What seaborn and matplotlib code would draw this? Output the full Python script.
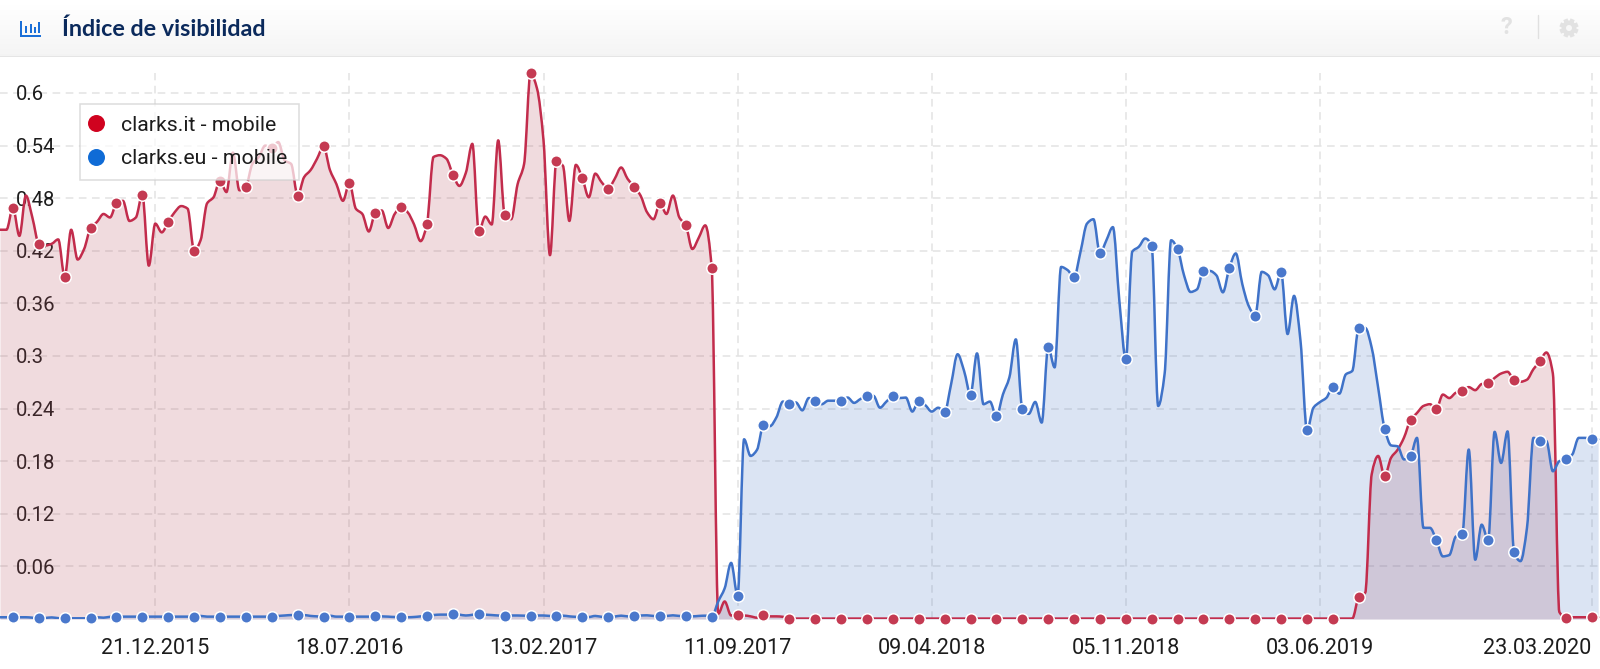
import numpy as np
import pandas as pd
import matplotlib.pyplot as plt
import seaborn as sns
from matplotlib.lines import Line2D
from matplotlib.patches import Rectangle, Circle
from matplotlib.path import Path
from matplotlib.patheffects import AbstractPathEffect

# weekly values, one per Monday starting 06.07.2015
red = [
    .444, .444, .469, .437, .483, .458, .428, .426, .428, .433,
    .390, .444, .410, .422, .446, .453, .462, .458, .474, .477,
    .454, .458, .484, .403, .451, .441, .453, .464, .471, .468,
    .420, .432, .474, .481, .500, .487, .532, .489, .493, .519,
    .527, .540, .537, .544, .523, .519, .483, .504, .512, .525,
    .539, .512, .496, .477, .497, .468, .462, .442, .463, .466,
    .446, .462, .470, .464, .450, .431, .451, .527, .529, .525,
    .507, .494, .509, .542, .442, .459, .450, .546, .461, .456,
    .496, .519, .6225, .605, .546, .415, .522, .517, .454, .518,
    .503, .481, .508, .498, .491, .502, .515, .502, .493, .483,
    .464, .456, .474, .462, .483, .458, .449, .422, .435, .449,
    .400, .006, .020, .004, .004, .004, .003, .0015, .004, .003,
    .003, .0025, .0005, .0005, .0005, .0005, .0005, .0005, .0005, .0005,
    .0005, .0005, .0005, .0005, .0005, .0005, .0005, .0005, .0005, .0005,
    .0005, .0005, .0005, .0005, .0005, .0005, .0005, .0005, .0005, .0005,
    .0005, .0005, .0005, .0005, .0005, .0005, .0005, .0005, .0005, .0005,
    .0005, .0005, .0005, .0005, .0005, .0005, .0005, .0005, .0005, .0005,
    .0005, .0005, .0005, .0005, .0005, .0005, .0005, .0005, .0005, .0005,
    .0005, .0005, .0005, .0005, .0005, .0005, .0005, .0005, .0005, .0005,
    .0005, .0005, .0005, .0005, .0005, .0005, .0005, .0005, .0005, .0005,
    .0005, .0005, .0005, .0005, .0005, .0005, .0005, .0005, .0005, .0005,
    .025, .030, .165, .186, .163, .184, .193, .207, .227, .235,
    .243, .245, .240, .256, .252, .258, .260, .2645, .261, .268,
    .269, .275, .280, .282, .2725, .2706, .273, .285, .294, .304,
    .280, .008, .0015, .002, .002, .002, .002, .002,
]
blue = [
    .002, .002, .0023, .002, .002, .0015, .0008, .0012, .0018, .001,
    .0008, .0008, .0008, .0008, .0008, .002, .0015, .0025, .0027, .0027,
    .0027, .0027, .0027, .0027, .0027, .0027, .0027, .0027, .0027, .0027,
    .0027, .0035, .0027, .0027, .0027, .0027, .0027, .0027, .0027, .0027,
    .0027, .0027, .0027, .0035, .0040, .0045, .0046, .0045, .0035, .0030,
    .0027, .0037, .0027, .0027, .0027, .0027, .0027, .0027, .0038, .0030,
    .0027, .0023, .0023, .0020, .0023, .0030, .0038, .0045, .0050, .0050,
    .0057, .0050, .0040, .0048, .0057, .0050, .0045, .0040, .0038, .0040,
    .0040, .0038, .0038, .0040, .0040, .0035, .0038, .0038, .0030, .0025,
    .0023, .0023, .0035, .0025, .0023, .0028, .0038, .0030, .0038, .0040,
    .0042, .0035, .0038, .0035, .0042, .0035, .0038, .0030, .0035, .0038,
    .0023, .020, .035, .064, .0265, .205, .186, .193, .221, .220,
    .230, .248, .245, .247, .238, .252, .249, .245, .249, .249,
    .249, .2526, .2465, .251, .254, .2545, .241, .248, .254, .252,
    .2526, .2366, .249, .244, .2366, .241, .2366, .268, .302, .283,
    .256, .303, .245, .248, .231, .256, .2755, .319, .240, .234,
    .2476, .224, .310, .287, .4016, .398, .390, .419, .451, .456,
    .417, .432, .447, .363, .296, .419, .4245, .434, .4257, .243,
    .280, .432, .422, .392, .373, .376, .397, .397, .392, .3726,
    .4005, .417, .382, .357, .346, .396, .392, .376, .3955, .325,
    .3686, .317, .2154, .241, .2474, .2523, .2646, .257, .279, .283,
    .332, .332, .3095, .2638, .217, .198, .197, .182, .186, .2066,
    .104, .104, .09, .0714, .073, .094, .097, .1933, .0676, .1076,
    .09, .2135, .178, .214, .076, .066, .104, .2066, .2036, .203,
    .1685, .18, .182, .1876, .2066, .2066, .205, .205,
]
y_ticks = [.06, .12, .18, .24, .3, .36, .42, .48, .54, .6]
y_labels = ["0.06", "0.12", "0.18", "0.24", "0.3", "0.36", "0.42", "0.48", "0.54", "0.6"]
x_labels = ["21.12.2015", "18.07.2016", "13.02.2017", "11.09.2017",
            "09.04.2018", "05.11.2018", "03.06.2019", "23.03.2020"]
series_names = ["clarks.it - mobile", "clarks.eu - mobile"]

sns.set_theme(style="white")
plt.rcParams["font.family"] = ["Roboto", "DejaVu Sans"]

RED_LINE, RED_DOT, RED_FILL = "#c22c4c", "#c43a52", "#b44b5a"
BLUE_LINE, BLUE_DOT, BLUE_FILL = "#3f72c8", "#4a78cc", "#4b78c3"
GRID = "#e3e3e3"
ICON_GREY = "#e2e2e2"
W, H = 1600, 669


# draws a line's own vertices as a monotone curve instead of straight pieces
class Smooth(AbstractPathEffect):
    def draw_path(self, renderer, gc, tpath, affine, rgbFace=None):
        v = tpath.vertices
        dx = np.diff(v[:, 0])
        s = np.diff(v[:, 1]) / dx
        m = np.zeros(len(v))
        same = s[:-1] * s[1:] > 0
        m[1:-1][same] = 2 * s[:-1][same] * s[1:][same] / (s[:-1][same] + s[1:][same])
        m[0], m[-1] = s[0], s[-1]
        verts, codes = [v[0]], [Path.MOVETO]
        for i in range(len(dx)):
            verts.append([v[i, 0] + dx[i] / 3, v[i, 1] + m[i] * dx[i] / 3])
            verts.append([v[i + 1, 0] - dx[i] / 3, v[i + 1, 1] - m[i + 1] * dx[i] / 3])
            verts.append(v[i + 1])
            codes += [Path.CURVE4] * 3
        renderer.draw_path(gc, Path(np.array(verts), codes), affine, rgbFace)


weeks = pd.date_range("2015-07-06", periods=len(red), freq="7D")
x_ticks = pd.to_datetime(x_labels, format="%d.%m.%Y")
red = np.array(red)
blue = np.array(blue)

fig = plt.figure(figsize=(W / 100, H / 100), dpi=100, facecolor="white")

# chart area, 66..619 px from the top
ax = fig.add_axes([0, (H - 619) / H, 1, (619 - 66) / H])
ax.set_facecolor("none")

ax.fill_between(weeks, red, 0, color=RED_FILL, alpha=0.2, linewidth=0, zorder=2)
ax.fill_between(weeks, blue, 0, color=BLUE_FILL, alpha=0.2, linewidth=0, zorder=2)
sns.lineplot(x=weeks, y=red, color=RED_LINE, linewidth=1.8, ax=ax, zorder=3)
sns.lineplot(x=weeks, y=blue, color=BLUE_LINE, linewidth=1.8, ax=ax, zorder=4)
for line in ax.lines:
    line.set_path_effects([Smooth()])
sns.scatterplot(x=weeks[2::4], y=red[2::4], color=RED_DOT, s=68, edgecolor="white",
                linewidth=1.1, ax=ax, zorder=5, clip_on=False)
sns.scatterplot(x=weeks[2::4], y=blue[2::4], color=BLUE_DOT, s=68, edgecolor="white",
                linewidth=1.1, ax=ax, zorder=6, clip_on=False)

ax.set_xlim(weeks[0], weeks[0] + pd.Timedelta(days=1731))
ax.set_ylim(0, (619 - 66) / 876.7)
ax.set_xlabel("")
ax.set_ylabel("")
ax.set_xticks(x_ticks)
ax.set_xticklabels(x_labels)
ax.set_yticks(y_ticks)
ax.set_yticklabels(y_labels)
ax.tick_params(axis="both", length=0, labelcolor="#1c1c1c")
ax.tick_params(axis="x", pad=13.5, labelsize=15.6)
ax.tick_params(axis="y", pad=-11.5, labelsize=14.6)
for lab in ax.get_yticklabels():
    lab.set_horizontalalignment("left")
    lab.set_zorder(8)
ax.get_xticklabels()[-1].set_horizontalalignment("right")
ax.grid(True, color=GRID, linewidth=1.1, linestyle=(0, (5, 3.6)))
ax.set_axisbelow(True)
for gl in ax.get_xgridlines():
    gl.set_ydata([0, 0.987])
sns.despine(ax=ax, left=True, bottom=True)

handles = [Line2D([], [], linestyle="none", marker="o", markersize=11.2, color="#d0021f"),
           Line2D([], [], linestyle="none", marker="o", markersize=11.2, color="#0f6bd6")]
leg = ax.legend(handles, series_names, loc="upper left",
                bbox_to_anchor=(80 / W, (619 - 104) / (619 - 66)),
                frameon=True, framealpha=0.72, fancybox=False, edgecolor="#cfcfcf",
                facecolor="white", fontsize=15.3, labelcolor="#1c1c1c", labelspacing=0.68,
                handlelength=0.4, handletextpad=0.98, borderaxespad=0, borderpad=0.55)
leg.set_zorder(7)
leg.get_frame().set_linewidth(1.1)

# header strip with title and icons, in pixel coordinates
top = fig.add_axes([0, (H - 57) / H, 1, 57 / H])
top.set_xlim(0, W)
top.set_ylim(57, 0)
top.axis("off")
band = np.linspace(1.0, 0.955, 57).reshape(-1, 1)
top.imshow(band, cmap="gray", vmin=0, vmax=1, extent=(0, W, 57, 0), aspect="auto")
top.axhline(56.5, color="#e3e3e3", linewidth=1.2)
top.text(62, 29, "Índice de visibilidad", fontsize=16.8, fontweight="bold",
         family="Lato", color="#0b2a5c", va="center", ha="left")

icon_bars = [(25, 7), (29.5, 9), (34, 6), (38, 11)]
for bar_x, bar_h in icon_bars:
    top.add_patch(Rectangle((bar_x, 32.5 - bar_h), 2.4, bar_h, color="#1a6fd8", linewidth=0))
top.add_patch(Rectangle((20, 21), 1.8, 15.5, color="#1a6fd8", linewidth=0))
top.add_patch(Rectangle((20, 34.6), 21, 1.9, color="#1a6fd8", linewidth=0))

top.text(1506, 28, "?", fontsize=17, fontweight="bold", color=ICON_GREY, va="center", ha="center")
top.plot([1538, 1538], [15, 38], color="#e0e0e0", linewidth=1)

# settings gear
gear_x, gear_y = 1569, 28
for angle in np.arange(8) * np.pi / 4 + np.pi / 8:
    top.plot([gear_x + 5 * np.cos(angle), gear_x + 9.5 * np.cos(angle)],
             [gear_y + 5 * np.sin(angle), gear_y + 9.5 * np.sin(angle)],
             color=ICON_GREY, linewidth=3.2, solid_capstyle="butt")
top.add_patch(Circle((gear_x, gear_y), 7.4, color=ICON_GREY, linewidth=0))
top.add_patch(Circle((gear_x, gear_y), 3, color="#f8f8f8", linewidth=0))

fig.savefig("out.png", dpi=100)
